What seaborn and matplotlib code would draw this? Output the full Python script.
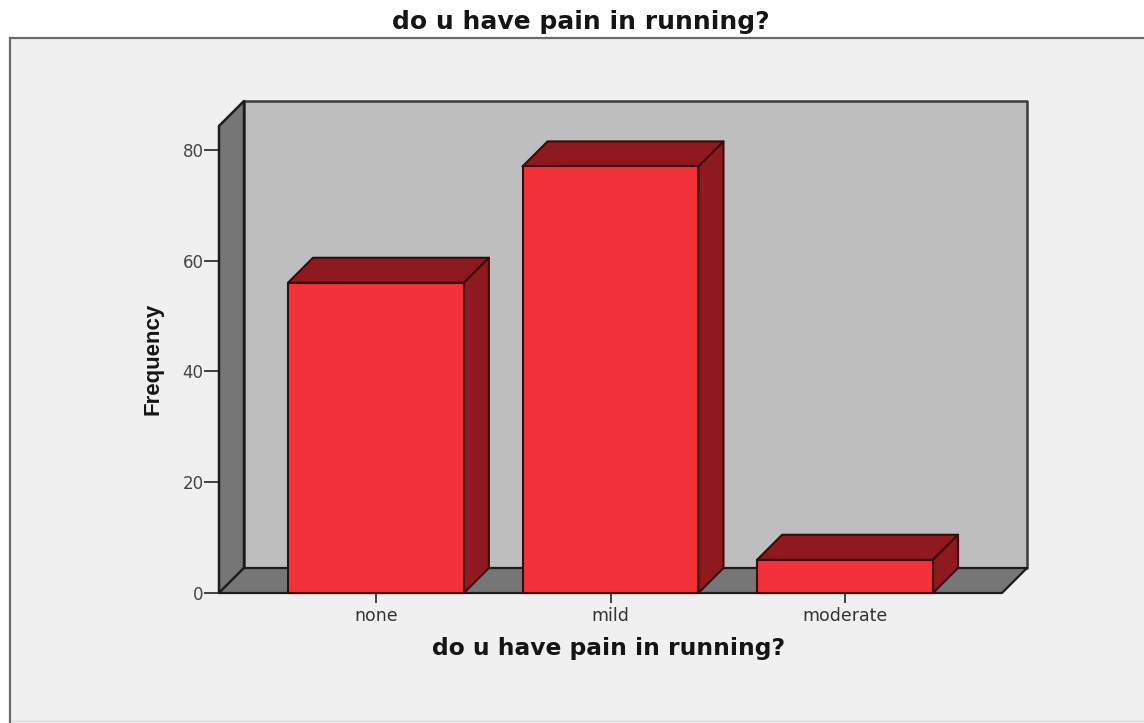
import matplotlib
matplotlib.use("Agg")
import matplotlib.pyplot as plt
from matplotlib.lines import Line2D
from matplotlib.patches import Polygon, Rectangle
import seaborn as sns
import pandas as pd

categories = ["none", "mild", "moderate"]
frequency = [56, 77, 6]
y_ticks = [0, 20, 40, 60, 80]
title_text = "do u have pain in running?"
x_label_text = "do u have pain in running?"
y_label_text = "Frequency"

W, H, DPI = 1144, 723, 100
sns.set_theme(style="white")
plt.rcParams["font.family"] = ["DejaVu Sans"]

fig = plt.figure(figsize=(W / DPI, H / DPI), dpi=DPI, facecolor="white")
# outer panel sits behind the axes
fig.add_artist(Rectangle((10 / W, -0.01), 1.05, (723 - 38) / H + 0.01, transform=fig.transFigure,
                         facecolor="#f0f0f0", edgecolor="#6a6a6a", linewidth=1.6, zorder=-1))
fig.add_artist(Line2D([11 / W, 1], [2 / H, 2 / H], transform=fig.transFigure,
                      color="#dcdcdc", linewidth=1.0, zorder=-0.5))

ax = fig.add_axes([219 / W, (H - 593) / H, (1002 - 219) / W, (593 - 126) / H])
ax.patch.set_alpha(0)

df = pd.DataFrame({"pain": categories, "freq": frequency})
sns.barplot(data=df, x="pain", y="freq", color="#f23238", saturation=1, width=0.75,
            edgecolor="#3a0a0c", linewidth=1.5, ax=ax, zorder=5)
ax.set_xlim(-0.669, 2.669)
ax.set_ylim(0, 467 / 5.54)

for s in ax.spines.values():
    s.set_visible(False)

# depth offset in data units
dx = 25 / (783 / 3.338)
dy = 25 / 5.54
x0, x1 = ax.get_xlim()
y0, y1 = ax.get_ylim()
edge = "#1c1c1c"

def face(pts, color, ec=edge, z=1, lw=1.6):
    ax.add_patch(Polygon(pts, closed=True, facecolor=color, edgecolor=ec, linewidth=lw,
                         joinstyle="round", zorder=z, clip_on=False))

face([(x0 + dx, y0 + dy), (x1 + dx, y0 + dy), (x1 + dx, y1 + dy), (x0 + dx, y1 + dy)], "#bebebe", "#3c3c3c", 1, 1.8)
face([(x0, y0), (x0 + dx, y0 + dy), (x0 + dx, y1 + dy), (x0, y1)], "#767676", edge, 2, 1.8)
face([(x0, y0), (x1, y0), (x1 + dx, y0 + dy), (x0 + dx, y0 + dy)], "#767676", edge, 2, 1.6)

for bar in ax.patches[:len(categories)]:
    bx, bw, bh = bar.get_x(), bar.get_width(), bar.get_height()
    face([(bx, bh), (bx + bw, bh), (bx + bw + dx, bh + dy), (bx + dx, bh + dy)], "#8e1a20", "#3a0a0c", 4, 1.5)
    face([(bx + bw, 0), (bx + bw + dx, dy), (bx + bw + dx, bh + dy), (bx + bw, bh)], "#8e1a20", "#3a0a0c", 4, 1.5)
    bar.set_clip_on(False)

ax.set_yticks(y_ticks)
ax.set_xlabel("")
ax.set_ylabel("")
ax.tick_params(axis="y", left=True, length=11, width=1.3, color="#333333", pad=0,
               labelsize=12, labelcolor="#444444")
ax.tick_params(axis="x", bottom=True, length=7, width=1.3, color="#333333", pad=3,
               labelsize=12.5, labelcolor="#333333")

fig.text(581 / W, 1 - 21.5 / H, title_text, ha="center", va="center", fontsize=18,
         fontweight="bold", family="DejaVu Sans", color="#151515")
fig.text(609 / W, 1 - 649 / H, x_label_text, ha="center", va="center", fontsize=16.8,
         fontweight="bold", family="DejaVu Sans", color="#151515")
fig.text(153 / W, 1 - 359 / H, y_label_text, ha="center", va="center", rotation=90,
         fontsize=16, fontweight="bold", family="Liberation Sans", color="#151515")

fig.savefig("out.png", dpi=DPI, facecolor="white")
